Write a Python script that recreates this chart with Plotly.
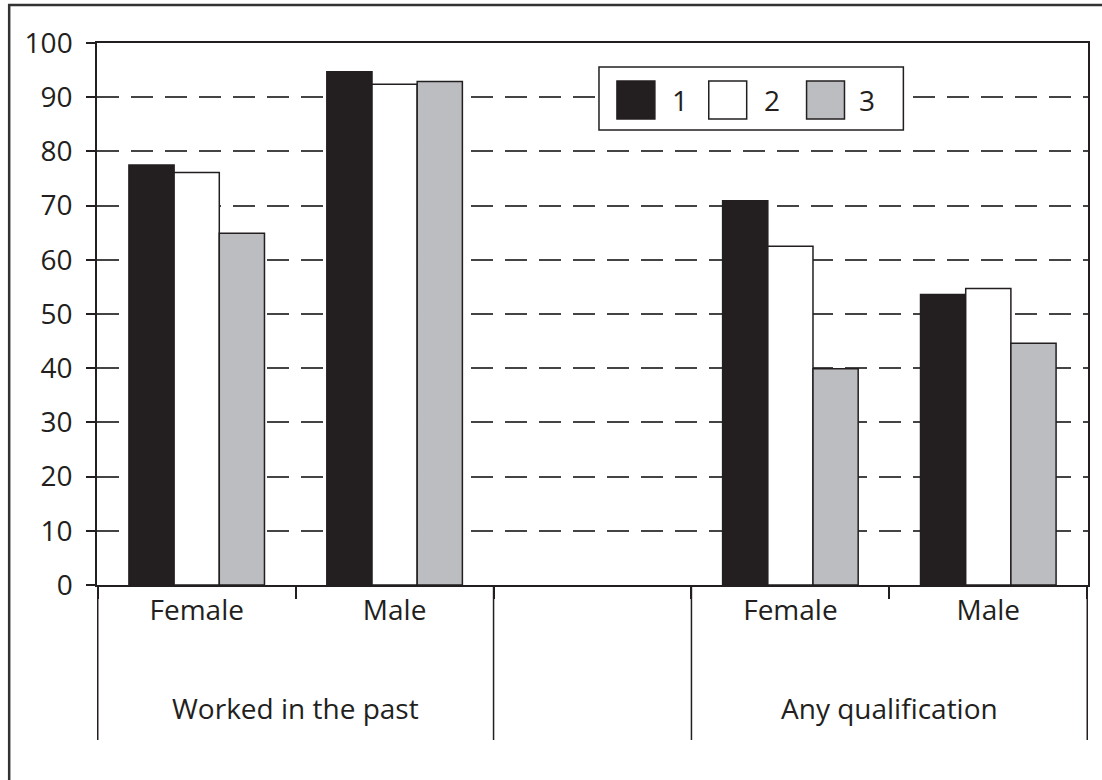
import plotly.graph_objects as go

# ---- data ----
slot_keys = ["wp_f", "wp_m", "gap", "aq_f", "aq_m"]
sub_labels = ["Female", "Male", "", "Female", "Male"]
group_labels = ["Worked in the past", "Any qualification"]
group_centers = [0.5, 3.5]          # category index of group centres
series_names = ["1", "2", "3"]
series_1 = [77.5, 94.7, None, 70.9, 53.6]
series_2 = [76.1, 92.4, None, 62.5, 54.7]
series_3 = [64.9, 92.9, None, 39.9, 44.6]
y_ticks = [0, 10, 20, 30, 40, 50, 60, 70, 80, 90, 100]

colors = ["#231f20", "#ffffff", "#bcbdc0"]
line_c = "#231f20"
FONT = "Open Sans"
FS = 28

W, H = 1102, 780
L, R, T, B = 97, 12, 43, 195
PW, PH = W - L - R, H - T - B


def px(x):
    return (x - L) / PW


def py(y):
    return (H - B - y) / PH


fig = go.Figure()
for name, vals, c in zip(series_names, [series_1, series_2, series_3], colors):
    fig.add_trace(go.Bar(
        x=slot_keys, y=vals, name=name, showlegend=False,
        marker=dict(color=c, line=dict(color=line_c, width=1.5)),
    ))

shapes = []
# long divider lines below axis
for xb in [-0.5, 1.5, 2.5, 4.5]:
    shapes.append(dict(type="line", xref="x", yref="paper", x0=xb, x1=xb,
                       y0=0, y1=py(740), line=dict(color=line_c, width=1.5)))
# outer frame (left & top)
shapes.append(dict(type="line", xref="paper", yref="paper", x0=px(9), x1=px(9),
                   y0=py(4), y1=py(790), line=dict(color="#333333", width=2.5)))
shapes.append(dict(type="line", xref="paper", yref="paper", x0=px(8), x1=px(1110),
                   y0=py(5), y1=py(5), line=dict(color="#333333", width=2.5)))
# legend box
shapes.append(dict(type="rect", xref="paper", yref="paper", x0=px(600), x1=px(905),
                   y0=py(130), y1=py(67), line=dict(color=line_c, width=1.5),
                   fillcolor="white", layer="above"))
annotations = []
sq_x = [618, 710, 808]
txt_x = [681, 773, 869]
for i, name in enumerate(series_names):
    shapes.append(dict(type="rect", xref="paper", yref="paper", x0=px(sq_x[i]),
                       x1=px(sq_x[i] + 38), y0=py(119), y1=py(81),
                       line=dict(color=line_c, width=1.5), fillcolor=colors[i],
                       layer="above"))
    annotations.append(dict(xref="paper", yref="paper", x=px(txt_x[i]), y=py(100),
                            text=name, showarrow=False, xanchor="center",
                            yanchor="middle",
                            font=dict(family=FONT, size=FS, color=line_c)))

for lab, xc in zip(group_labels, group_centers):
    annotations.append(dict(xref="x", yref="paper", x=xc, y=py(708), text=lab,
                            showarrow=False, xanchor="center", yanchor="middle",
                            font=dict(family=FONT, size=FS, color=line_c)))

fig.update_layout(
    width=W, height=H,
    margin=dict(l=L, r=R, t=T, b=B, pad=0),
    paper_bgcolor="white", plot_bgcolor="white",
    barmode="group", bargap=0.315, bargroupgap=0,
    font=dict(family=FONT, size=FS, color=line_c),
    shapes=shapes, annotations=annotations,
    xaxis=dict(type="category", categoryorder="array", categoryarray=slot_keys,
               tickvals=slot_keys, ticktext=sub_labels,
               ticks="outside", tickson="boundaries", ticklen=12,
               tickcolor=line_c, tickwidth=1.5,
               showline=True, linecolor=line_c, linewidth=1.5, mirror=True,
               showgrid=False, zeroline=False,
               tickfont=dict(family=FONT, size=FS, color=line_c)),
    yaxis=dict(range=[0, 100], tickvals=y_ticks, ticks="outside", ticklen=9,
               tickcolor=line_c, tickwidth=1.5, ticklabelstandoff=8,
               showline=True, linecolor=line_c, linewidth=1.5, mirror=True,
               showgrid=True, gridcolor="#444444", gridwidth=1.5,
               griddash="22px,12px", zeroline=False,
               tickfont=dict(family=FONT, size=FS, color=line_c)),
)

fig.write_html("out.html", config={"displayModeBar": False},
               post_script="document.body.style.margin='0px';document.body.style.padding='0px';")
